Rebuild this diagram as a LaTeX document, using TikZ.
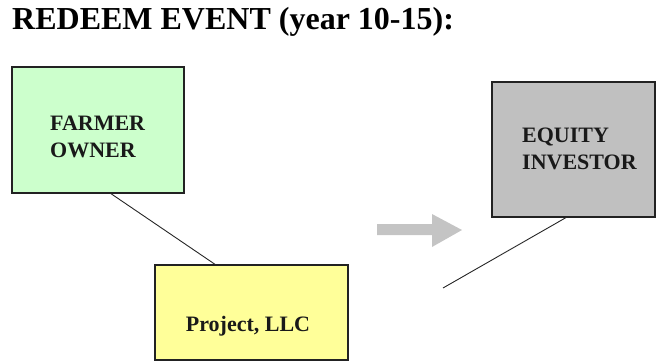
\documentclass[tikz,border=0pt]{standalone}
\usepackage{fontspec}
\setmainfont{Liberation Serif}
\definecolor{farmgreen}{HTML}{CCFFCC}
\definecolor{projyellow}{HTML}{FFFF99}
\definecolor{eqgray}{HTML}{C0C0C0}
\definecolor{arrowgray}{HTML}{C4C4C4}
\definecolor{edge}{HTML}{222222}
\begin{document}
\begin{tikzpicture}[x=1pt,y=-1pt,
  boxed/.style={draw=edge,line width=1.3pt,inner sep=0pt,outer sep=0pt},
  lbl/.style={font=\fontsize{22}{27}\selectfont\bfseries,align=left,inner sep=0pt,text=black!90},
  conn/.style={draw=black!85,line width=0.9pt}]
\useasboundingbox (0,0) rectangle (656,362);
\node[anchor=base west,inner sep=0pt,font=\fontsize{32}{36}\selectfont\bfseries] (title) at (12,29) {REDEEM EVENT (year 10-15):};
% boxes
\path[boxed,fill=farmgreen] (12,67) rectangle (184,193);
\coordinate (farmS) at (110,193);
\node[lbl,anchor=west] (farmer) at (50,137) {FARMER\\OWNER};
\path[boxed,fill=projyellow] (155,265) rectangle (348,360);
\coordinate (projN) at (216,265);
\node[lbl] (project) at (248,326) {Project, LLC};
\path[boxed,fill=eqgray] (492,82) rectangle (655,217);
\coordinate (eqS) at (567,217);
\node[lbl,anchor=west] (equity) at (522,149) {EQUITY\\INVESTOR};
\coordinate (freeEnd) at (443,288);
% connectors
\draw[conn] (farmS) -- (projN);
\draw[conn] (eqS) -- (freeEnd);
% gray arrow
\fill[arrowgray] (377,224) -- (432,224) -- (432,214) -- (462,230) -- (432,247) -- (432,235) -- (377,235) -- cycle;
\end{tikzpicture}
\end{document}
